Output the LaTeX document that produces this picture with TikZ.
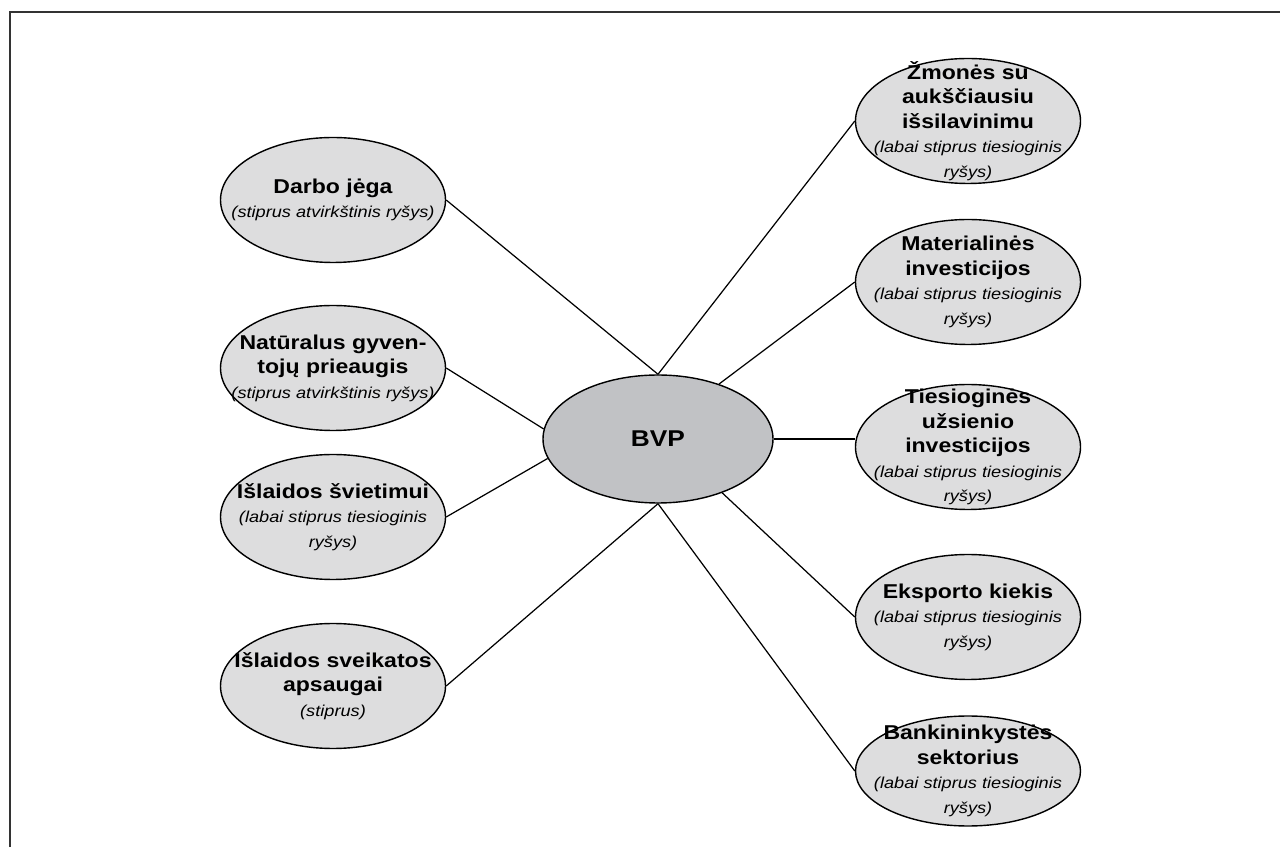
\documentclass[tikz,border=0pt]{standalone}
\usepackage{fontspec}
\setmainfont{Liberation Sans}[FakeStretch=1.15]
\usetikzlibrary{shapes.geometric}
\definecolor{factorgray}{HTML}{DDDDDE}
\definecolor{bvpgray}{HTML}{C1C2C5}
\definecolor{framegray}{HTML}{333333}
\newcommand{\rel}[1]{{\mdseries\itshape\fontsize{9}{11}\selectfont #1}}
\tikzset{
  factor/.style={ellipse, draw, line width=0.8pt, fill=factorgray,
    minimum width=4.5cm, minimum height=2.5cm, inner sep=0pt},
  factortext/.style={align=center, inner sep=0pt,
    font=\bfseries\fontsize{11.4}{14}\selectfont},
  link/.style={line width=0.7pt},
}
\begin{document}
\begin{tikzpicture}
				\useasboundingbox (0,0) rectangle (25.6,16.94);
				\draw[framegray, line width=1.1pt] (0.2,0) -- (0.2,16.70) -- (25.6,16.70);

				\node[ellipse, draw, line width=0.8pt, fill=bvpgray,
					minimum width=4.6cm, minimum height=2.56cm, inner sep=0pt,
					font=\bfseries\fontsize{13}{15}\selectfont] (bvp) at (13.16,8.16) {BVP};

				% left column
				\node[factor] (darbo) at (6.66,12.94) {};
				\node[factortext] (darbo-t) at (darbo.center)
					{Darbo jėga\\\rel{(stiprus atvirkštinis ryšys)}};

				\node[factor] (prieaugis) at (6.66,9.58) {};
				\node[factortext] (prieaugis-t) at (prieaugis.center)
					{Natūralus gyven-\\tojų prieaugis\\\rel{(stiprus atvirkštinis ryšys)}};

				\node[factor] (svietimas) at (6.66,6.60) {};
				\node[factortext] (svietimas-t) at (svietimas.center)
					{Išlaidos švietimui\\\rel{(labai stiprus tiesioginis}\\\rel{ryšys)}};

				\node[factor] (sveikata) at (6.66,3.22) {};
				\node[factortext] (sveikata-t) at (sveikata.center)
					{Išlaidos sveikatos\\apsaugai\\\rel{(stiprus)}};

				% right column
				\node[factor] (zmones) at (19.36,14.52) {};
				\node[factortext] (zmones-t) at (zmones.center)
					{Žmonės su\\aukščiausiu\\išsilavinimu\\\rel{(labai stiprus tiesioginis}\\\rel{ryšys)}};

				\node[factor] (investicijos) at (19.36,11.30) {};
				\node[factortext] (investicijos-t) at (investicijos.center)
					{Materialinės\\investicijos\\\rel{(labai stiprus tiesioginis}\\\rel{ryšys)}};

				\node[factor] (tui) at (19.36,8.00) {};
				\node[factortext] (tui-t) at (tui.center)
					{Tiesioginės\\užsienio\\investicijos\\\rel{(labai stiprus tiesioginis}\\\rel{ryšys)}};

				\node[factor] (eksportas) at (19.36,4.60) {};
				\node[factortext] (eksportas-t) at (eksportas.center)
					{Eksporto kiekis\\\rel{(labai stiprus tiesioginis}\\\rel{ryšys)}};

				\node[factor, minimum height=2.2cm] (bankai) at (19.36,1.52) {};
				\node[factortext] (bankai-t) at (bankai.center)
					{Bankininkystės\\sektorius\\\rel{(labai stiprus tiesioginis}\\\rel{ryšys)}};

				% connectors
				\draw[link] (darbo.east) -- (bvp.north);
				\draw[link] (prieaugis.east) -- (bvp.175);
				\draw[link] (svietimas.east) -- (bvp.190);
				\draw[link] (sveikata.east) -- (bvp.south);
				\draw[link] (zmones.west) -- (bvp.north);
				\draw[link] (investicijos.west) -- (bvp.42);
				\draw[link] (bvp.east) -- (bvp.east -| tui.west);
				\draw[link] (eksportas.west) -- (bvp.-40);
				\draw[link] (bankai.west) -- (bvp.south);
\end{tikzpicture}
\end{document}
